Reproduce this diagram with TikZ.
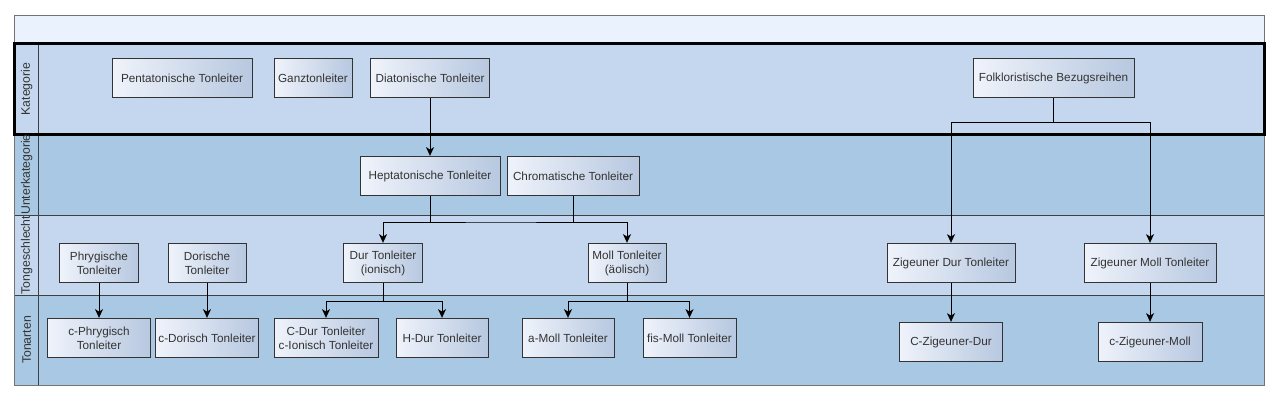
\documentclass[tikz,border=0pt]{standalone}
\usepackage{fontspec}
\setmainfont{Liberation Sans}
\usetikzlibrary{positioning,arrows.meta,calc}

\definecolor{titleband}{HTML}{EAF3FD}
\definecolor{lanelight}{HTML}{C5D7EE}
\definecolor{lanedark}{HTML}{A9C8E3}
\definecolor{boxleft}{HTML}{EFF3FB}
\definecolor{boxright}{HTML}{B7C8E0}
\definecolor{txt}{HTML}{333333}

\tikzset{
	box/.style={draw=black!80,line width=0.75pt,left color=boxleft,right color=boxright,
		text=txt,font=\fontsize{8.8}{10.5}\selectfont,align=center,inner sep=0pt,minimum height=29.5pt},
	lanelabel/.style={rotate=90,text=txt,font=\fontsize{9.2}{10}\selectfont},
	conn/.style={line width=0.75pt,-{Stealth[length=6.5pt,width=6pt,inset=1.8pt]}},
}

\begin{document}
\begin{tikzpicture}[x=0.75pt,y=-0.75pt]
		\useasboundingbox[fill=white] (0,0) rectangle (1280,400);
		% lanes
		\fill[titleband] (14.7,15) rectangle (1264.5,43.5);
		\fill[lanelight] (14.7,43.5) rectangle (1264.5,134);
		\fill[lanedark] (14.7,134) rectangle (1264.5,215);
		\fill[lanelight] (14.7,215) rectangle (1264.5,295);
		\fill[lanedark] (14.7,295) rectangle (1264.5,385);
		\draw[black!75,line width=0.75pt] (14.7,215) -- (1264.5,215) (14.7,295) -- (1264.5,295)
			(38.5,43.5) -- (38.5,385);
		\draw[black!55,line width=0.75pt] (14.7,15) rectangle (1264.5,385);
		\draw[black,line width=2.25pt] (14.7,43.5) rectangle (1264.5,134);
		
		\node[lanelabel] (lkat) at (26.6,89) {Kategorie};
		\node[lanelabel] (lunter) at (26.6,174.5) {Unterkategorie};
		\node[lanelabel] (lges) at (26.6,255) {Tongeschlecht};
		\node[lanelabel] (lart) at (26.6,340) {Tonarten};
		
		% Kategorie
		\node[box,minimum width=105pt] (pent) at (182,78) {Pentatonische Tonleiter};
		\node[box,minimum width=58.5pt] (ganz) at (313,78) {Ganztonleiter};
		\node[box,minimum width=89.25pt] (dia) at (430,78) {Diatonische Tonleiter};
		\node[box,minimum width=120.75pt] (folk) at (1053.5,78) {Folkloristische Bezugsreihen};
		% Unterkategorie
		\node[box,minimum width=105pt] (hepta) at (430,176) {Heptatonische Tonleiter};
		\node[box,minimum width=99pt] (chrom) at (573,176) {Chromatische Tonleiter};
		% Tongeschlecht
		\node[box,minimum width=59.25pt] (phryg) at (99,263) {Phrygische\\Tonleiter};
		\node[box,minimum width=58.5pt] (dor) at (207,263) {Dorische\\Tonleiter};
		\node[box,minimum width=59.25pt] (dur) at (383,263) {Dur Tonleiter\\(ionisch)};
		\node[box,minimum width=58.5pt] (moll) at (627,263) {Moll Tonleiter\\(äolisch)};
		\node[box,minimum width=96pt] (zigdur) at (951,263) {Zigeuner Dur Tonleiter};
		\node[box,minimum width=99pt] (zigmoll) at (1150,263) {Zigeuner Moll Tonleiter};
		% Tonarten
		\node[box,minimum width=77.25pt] (cphr) at (99,338) {c-Phrygisch\\Tonleiter};
		\node[box,minimum width=77.25pt] (cdor) at (207,338) {c-Dorisch Tonleiter};
		\node[box,minimum width=78pt] (cdur) at (326,338) {C-Dur Tonleiter\\c-Ionisch Tonleiter};
		\node[box,minimum width=69pt] (hdur) at (442,338) {H-Dur Tonleiter};
		\node[box,minimum width=69pt] (amoll) at (568,338) {a-Moll Tonleiter};
		\node[box,minimum width=69.75pt] (fis) at (689.5,338) {fis-Moll Tonleiter};
		\node[box,minimum width=77.25pt] (czdur) at (951,342) {C-Zigeuner-Dur};
		\node[box,minimum width=78pt] (czmoll) at (1150,342) {c-Zigeuner-Moll};
		
		\coordinate (hj) at (500,222);
		\coordinate (dj) at (383,301);
		\coordinate (mj) at (627,301);
		\coordinate (fj) at (1053.5,122);
		
		\path[conn]
		(dia) edge (hepta)
		(phryg) edge (cphr)
		(dor) edge (cdor)
		(zigdur) edge (czdur)
		(zigmoll) edge (czmoll);
		\draw[conn] (hepta) |- (hj) -| (dur);
		\draw[conn] (chrom) |- (hj) -| (moll);
		\draw[conn] (dur) -- (dj) -| (cdur);
		\draw[conn] (dur) -- (dj) -| (hdur);
		\draw[conn] (moll) -- (mj) -| (amoll);
		\draw[conn] (moll) -- (mj) -| (fis);
		\draw[conn] (folk) -- (fj) -| (zigdur);
		\draw[conn] (folk) -- (fj) -| (zigmoll);
		
\end{tikzpicture}
\end{document}
